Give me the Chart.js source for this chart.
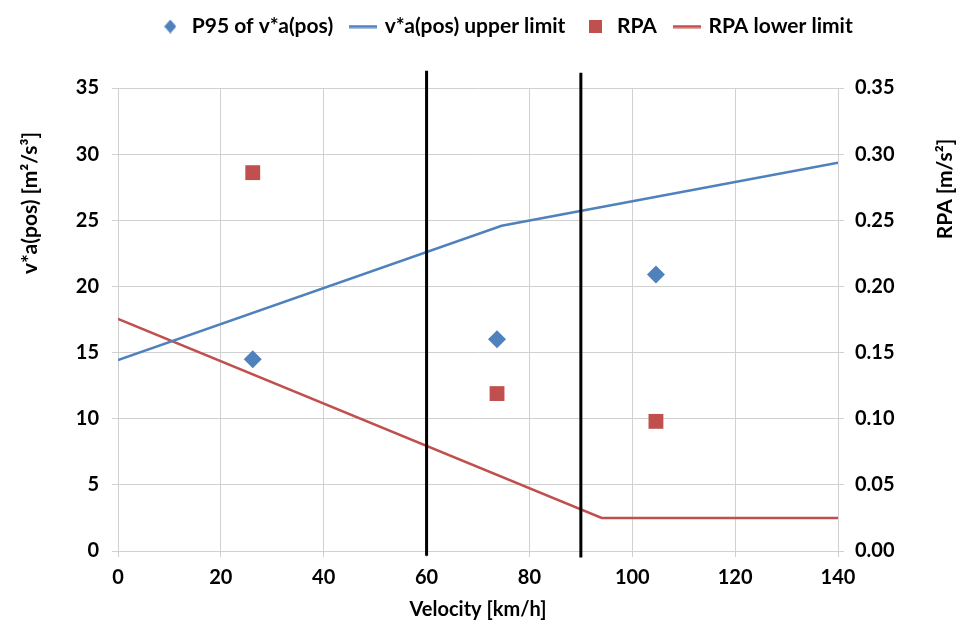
<!DOCTYPE html>
<html lang="en">
<head>
<meta charset="UTF-8" />
<title>v*a(pos) and RPA vs velocity</title>
<script src="https://cdn.jsdelivr.net/npm/chart.js@4"></script>
<style>
  html, body { margin: 0; padding: 0; background: #fff; }
</style>
</head>
<body>
<canvas id="grafik" width="960" height="624"></canvas>
<script>
  // values
  const upperX = [0, 74.6, 140];
  const upperY = [14.44, 24.59, 29.35];
  const rpaLimX = [0, 94.05, 140];
  const rpaLimY = [0.1755, 0.025, 0.025];
  const binX = [26.2, 73.7, 104.6];
  const p95Y = [14.5, 16.0, 20.9];
  const rpaY = [0.286, 0.119, 0.098];
  // speed bin boundaries (black verticals)
  const boundX = [60, 90];
  const boundLow = [-0.35, -0.5];
  const boundHigh = [36.3, 36.15];

  const xTicks = [0, 140, 20];
  const yTicks = [0, 35, 5];
  const y2Ticks = [0, 0.35, 0.05];

  const BLUE = '#4F81BD';
  const RED = '#C0504D';
  const FONT = 'Lato, "Open Sans", sans-serif';

  const pts = (xs, ys) => xs.map((x, i) => ({ x, y: ys[i] }));

  // legend marks as small canvases (size first, setting width resets the context)
  function icon(kind, color) {
    const c = document.createElement('canvas');
    if (kind === 'line') { c.width = 28; c.height = 4; }
    else if (kind === 'diamond') { c.width = 12; c.height = 14; }
    else { c.width = 13; c.height = 13; }
    const g = c.getContext('2d');
    g.fillStyle = color;
    if (kind === 'line') {
      g.fillRect(0, 0.5, 28, 3);
    } else if (kind === 'diamond') {
      g.beginPath();
      g.moveTo(6, 0); g.lineTo(12, 7); g.lineTo(6, 14); g.lineTo(0, 7);
      g.closePath(); g.fill();
    } else {
      g.fillRect(0, 0, 13, 13);
    }
    return c;
  }

  const legendIcons = {
    2: icon('diamond', BLUE),
    3: icon('line', BLUE),
    4: icon('square', RED),
    5: icon('line', RED)
  };

  const boundLines = boundX.map((x, i) => ({
    label: 'bound' + x,
    data: [{ x, y: boundLow[i] }, { x, y: boundHigh[i] }],
    borderColor: '#000',
    borderWidth: 3,
    showLine: true,
    pointRadius: 0,
    clip: false,
    order: 0,
    yAxisID: 'y'
  }));

  // legend box is 88px tall so the plot starts at y=88; nudge it a bit up and right
  const fixLegend = {
    id: 'fixLegend',
    beforeInit(chart) {
      const fit = chart.legend.fit;
      chart.legend.fit = function () {
        fit.call(this);
        this.height = 88;
      };
    },
    afterLayout(chart) {
      const lg = chart.legend;
      lg.top -= 3; lg.bottom -= 3;
      lg.left += 26; lg.right += 26;
    }
  };

  const yTitles = {
    id: 'yTitles',
    afterDraw(chart) {
      const ctx = chart.ctx;
      ctx.save();
      ctx.font = 'bold 21px ' + FONT;
      ctx.fillStyle = '#000';
      ctx.textAlign = 'center';
      ctx.textBaseline = 'middle';
      ctx.translate(30, 203);
      ctx.rotate(-Math.PI / 2);
      ctx.fillText('v*a(pos) [m²/s³]', 0, 0);
      ctx.restore();
      ctx.save();
      ctx.font = 'bold 21px ' + FONT;
      ctx.fillStyle = '#000';
      ctx.textAlign = 'center';
      ctx.textBaseline = 'middle';
      ctx.translate(945, 189);
      ctx.rotate(-Math.PI / 2);
      ctx.fillText('RPA [m/s²]', 0, 0);
      ctx.restore();
    }
  };

  const tickFont = { family: FONT, size: 20, weight: 'bold' };
  const gridCol = '#d0d0d0';

  new Chart(document.getElementById('grafik'), {
    type: 'scatter',
    data: {
      datasets: [
        ...boundLines,
        {
          label: 'P95 of v*a(pos)',
          data: pts(binX, p95Y),
          pointStyle: 'rectRot',
          pointRadius: 9,
          backgroundColor: BLUE,
          borderColor: BLUE,
          borderWidth: 0,
          order: 1,
          yAxisID: 'y'
        },
        {
          label: 'v*a(pos) upper limit',
          data: pts(upperX, upperY),
          showLine: true,
          borderColor: BLUE,
          borderWidth: 2.5,
          pointRadius: 0,
          order: 1,
          yAxisID: 'y'
        },
        {
          label: 'RPA',
          data: pts(binX, rpaY),
          pointStyle: 'rect',
          pointRadius: 10.5,
          backgroundColor: RED,
          borderColor: RED,
          borderWidth: 0,
          order: 1,
          yAxisID: 'y2'
        },
        {
          label: 'RPA lower limit',
          data: pts(rpaLimX, rpaLimY),
          showLine: true,
          borderColor: RED,
          borderWidth: 2.5,
          pointRadius: 0,
          order: 1,
          yAxisID: 'y2'
        }
      ]
    },
    options: {
      responsive: false,
      animation: false,
      events: [],
      layout: { padding: 0 },
      plugins: {
        tooltip: { enabled: false },
        legend: {
          position: 'top',
          labels: {
            usePointStyle: true,
            pointStyleWidth: 22,
            padding: 19,
            color: '#000',
            font: { family: FONT, size: 21, weight: 'bold' },
            generateLabels: chart => [2, 3, 4, 5].map(i => ({
              text: chart.data.datasets[i].label,
              pointStyle: legendIcons[i],
              datasetIndex: i,
              fontColor: '#000',
              fillStyle: 'transparent',
              strokeStyle: 'transparent',
              lineWidth: 0,
              hidden: false
            }))
          }
        }
      },
      scales: {
        x: {
          type: 'linear',
          position: 'bottom',
          min: xTicks[0],
          max: xTicks[1],
          ticks: { stepSize: xTicks[2], font: tickFont, color: '#000', padding: 9 },
          grid: { color: gridCol, tickLength: 6 },
          border: { color: gridCol },
          title: {
            display: true,
            text: 'Velocity [km/h]',
            color: '#000',
            font: { family: FONT, size: 20, weight: 'bold' },
            padding: { top: 0, bottom: 2 }
          },
          afterFit: s => { s.height = 73; }
        },
        y: {
          position: 'left',
          min: yTicks[0],
          max: yTicks[1],
          ticks: { stepSize: yTicks[2], font: tickFont, color: '#000', padding: 13 },
          grid: { color: gridCol, tickLength: 6 },
          border: { color: gridCol },
          afterFit: s => { s.width = 118; }
        },
        y2: {
          position: 'right',
          min: y2Ticks[0],
          max: y2Ticks[1],
          ticks: {
            stepSize: y2Ticks[2],
            font: tickFont,
            color: '#000',
            padding: 11,
            callback: v => v.toFixed(2)
          },
          grid: { drawOnChartArea: false, color: gridCol, tickLength: 6 },
          border: { color: gridCol },
          afterFit: s => { s.width = 122; }
        }
      }
    },
    plugins: [fixLegend, yTitles]
  });
</script>
</body>
</html>
